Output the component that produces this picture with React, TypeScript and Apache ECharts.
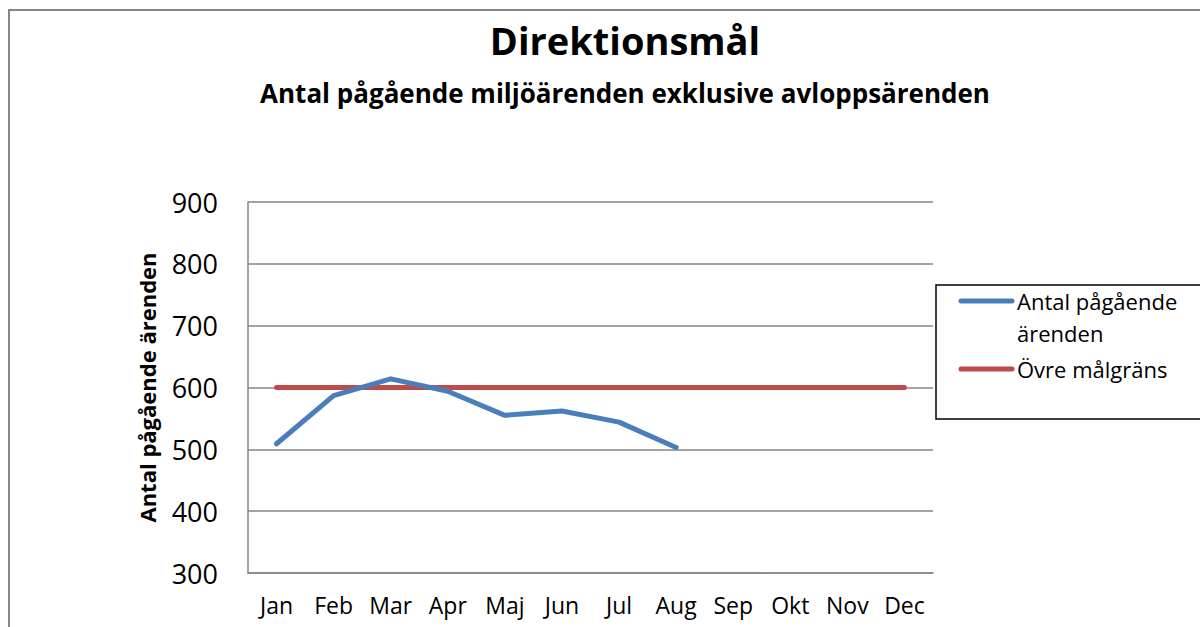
import React, { useEffect, useRef } from "react";
import * as echarts from "echarts";

const months = ["Jan", "Feb", "Mar", "Apr", "Maj", "Jun", "Jul", "Aug", "Sep", "Okt", "Nov", "Dec"];
const pagaende = [509, 587, 614, 594, 555, 562, 544, 503];
const malgrans = [600, 600, 600, 600, 600, 600, 600, 600, 600, 600, 600, 600];
const seriesNames = ["Antal pågående ärenden", "Övre målgräns"];
const titleText = "Direktionsmål";
const subtitleText = "Antal pågående miljöärenden exklusive avloppsärenden";
const yAxisName = "Antal pågående ärenden";

const FONT = "Open Sans";
const BLUE = "#4a7ebb";
const RED = "#be4b48";

export default function App() {
  const ref = useRef<HTMLDivElement>(null);
  useEffect(() => {
    if (!ref.current) return;
    const chart = echarts.init(ref.current, undefined, { renderer: "svg" });
    chart.setOption({
      animation: false,
      backgroundColor: "#ffffff",
      textStyle: { fontFamily: FONT },
      title: [
        {
          text: titleText,
          left: 620,
          textAlign: "center",
          top: 16,
          textStyle: { fontFamily: FONT, fontSize: 38, fontWeight: "bold", color: "#000" },
        },
        {
          text: subtitleText,
          left: 620,
          textAlign: "center",
          top: 75,
          textStyle: { fontFamily: FONT, fontSize: 26, fontWeight: "bold", color: "#000" },
        },
      ],
      legend: { show: false },
      grid: { left: 248, top: 202, width: 685, height: 371, containLabel: false },
      xAxis: {
        type: "category",
        data: months,
        boundaryGap: true,
        axisLine: { show: true, lineStyle: { color: "#868686", width: 1.5 } },
        axisTick: { show: false },
        axisLabel: { color: "#000", fontSize: 23, fontFamily: FONT, margin: 20 },
        splitLine: { show: false },
      },
      yAxis: {
        type: "value",
        min: 300,
        max: 900,
        interval: 100,
        name: yAxisName,
        nameLocation: "middle",
        nameGap: 90,
        nameTextStyle: { color: "#000", fontSize: 22, fontWeight: "bold", fontFamily: FONT },
        axisLine: { show: true, lineStyle: { color: "#868686", width: 1.5 } },
        axisTick: { show: false },
        axisLabel: { color: "#000", fontSize: 27, fontFamily: FONT, margin: 30 },
        splitLine: { show: true, lineStyle: { color: "#868686", width: 1.5 } },
      },
      series: [
        {
          name: seriesNames[0],
          type: "line",
          data: pagaende,
          symbol: "none",
          lineStyle: { color: BLUE, width: 5, cap: "round", join: "round" },
          itemStyle: { color: BLUE },
          z: 3,
        },
        {
          name: seriesNames[1],
          type: "line",
          data: malgrans,
          symbol: "none",
          lineStyle: { color: RED, width: 5, cap: "round" },
          itemStyle: { color: RED },
          z: 2,
        },
      ],
      graphic: [
        {
          type: "rect",
          shape: { x: 9, y: 10, width: 1300, height: 700 },
          style: { fill: "none", stroke: "#868686", lineWidth: 2 },
          silent: true,
        },
        {
          type: "rect",
          shape: { x: 936, y: 285, width: 300, height: 134 },
          style: { fill: "#fff", stroke: "#000", lineWidth: 1.5 },
          silent: true,
        },
        {
          type: "line",
          shape: { x1: 961, y1: 301, x2: 1012, y2: 301 },
          style: { stroke: BLUE, lineWidth: 5, lineCap: "round" },
        },
        {
          type: "text",
          x: 1017,
          y: 285,
          style: {
            text: "Antal pågående\närenden",
            font: `22px "${FONT}"`,
            fill: "#000",
            lineHeight: 32,
          },
        },
        {
          type: "line",
          shape: { x1: 961, y1: 369, x2: 1012, y2: 369 },
          style: { stroke: RED, lineWidth: 5, lineCap: "round" },
        },
        {
          type: "text",
          x: 1017,
          y: 353,
          style: {
            text: seriesNames[1],
            font: `22px "${FONT}"`,
            fill: "#000",
            lineHeight: 32,
          },
        },
      ],
    });
    return () => chart.dispose();
  }, []);
  return (
    <div
      ref={ref}
      style={{ position: "fixed", left: 0, top: 0, width: 1200, height: 627 }}
    />
  );
}
